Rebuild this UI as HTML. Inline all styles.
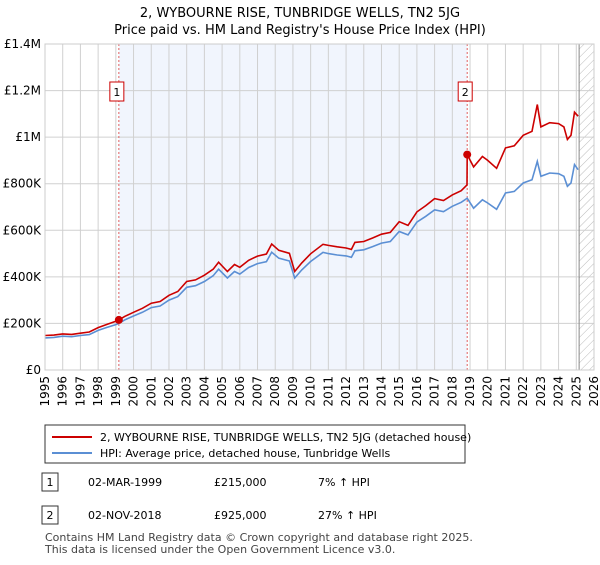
<!DOCTYPE html>
<html><head><meta charset="utf-8"><style>
body{margin:0;background:#fff;font-family:"Liberation Sans","DejaVu Sans",sans-serif;}
svg text{font-family:"DejaVu Sans","Liberation Sans",sans-serif;}
</style></head><body>
<svg width="600" height="560" xmlns="http://www.w3.org/2000/svg">
<defs><pattern id="hatch" width="6" height="6" patternUnits="userSpaceOnUse" patternTransform="rotate(45)"><line x1="0" y1="0" x2="0" y2="6" stroke="#bbb" stroke-width="1"/></pattern></defs>
<text x="300" y="17" text-anchor="middle" font-size="13">2, WYBOURNE RISE, TUNBRIDGE WELLS, TN2 5JG</text>
<text x="300" y="34" text-anchor="middle" font-size="13">Price paid vs. HM Land Registry's House Price Index (HPI)</text>
<g id="plot"></g>
<g>
<rect x="45" y="425" width="420" height="38" fill="#fff" stroke="#333" stroke-width="1"/>
<line x1="52" y1="437" x2="92" y2="437" stroke="#cc0000" stroke-width="2"/>
<text x="100" y="441" font-size="11">2, WYBOURNE RISE, TUNBRIDGE WELLS, TN2 5JG (detached house)</text>
<line x1="52" y1="453" x2="92" y2="453" stroke="#5b8fd4" stroke-width="2"/>
<text x="100" y="457" font-size="11">HPI: Average price, detached house, Tunbridge Wells</text>
</g>
<g font-size="11">
<rect x="42" y="473" width="16" height="18" fill="#fff" stroke="#333"/><text x="50" y="486" text-anchor="middle">1</text>
<text x="88" y="486">02-MAR-1999</text><text x="214" y="486">£215,000</text><text x="318" y="486">7% ↑ HPI</text>
<rect x="42" y="506" width="16" height="18" fill="#fff" stroke="#333"/><text x="50" y="519" text-anchor="middle">2</text>
<text x="88" y="519">02-NOV-2018</text><text x="214" y="519">£925,000</text><text x="318" y="519">27% ↑ HPI</text>
</g>
<text x="45" y="541" font-size="11" fill="#444">Contains HM Land Registry data © Crown copyright and database right 2025.</text>
<text x="45" y="553" font-size="11" fill="#444">This data is licensed under the Open Government Licence v3.0.</text>
</svg>
<script>
const hpiYears=[1995.0,1995.5,1996.0,1996.5,1997.0,1997.5,1998.0,1998.5,1999.0,1999.17,1999.5,2000.0,2000.5,2001.0,2001.5,2002.0,2002.5,2003.0,2003.5,2004.0,2004.5,2004.8,2005.3,2005.7,2006.0,2006.5,2007.0,2007.5,2007.8,2008.2,2008.8,2009.1,2009.5,2010.0,2010.7,2011.0,2011.5,2012.0,2012.3,2012.5,2013.0,2013.5,2014.0,2014.5,2015.0,2015.5,2016.0,2016.5,2017.0,2017.5,2018.0,2018.5,2018.84,2019.2,2019.7,2020.0,2020.5,2021.0,2021.5,2022.0,2022.5,2022.8,2023.0,2023.5,2024.0,2024.3,2024.5,2024.7,2024.9,2025.1];
const hpiValues=[138,140,145,143,148,152,170,183,195,200,215,232,248,268,275,300,315,355,362,380,405,433,395,423,412,440,457,465,506,480,468,395,430,466,505,500,494,490,484,512,516,530,545,552,595,580,635,660,688,680,703,720,738,695,731,717,690,760,767,803,817,896,832,846,843,832,789,803,882,860];
const redYears=[1995.0,1995.5,1996.0,1996.5,1997.0,1997.5,1998.0,1998.5,1999.0,1999.17,1999.5,2000.0,2000.5,2001.0,2001.5,2002.0,2002.5,2003.0,2003.5,2004.0,2004.5,2004.8,2005.3,2005.7,2006.0,2006.5,2007.0,2007.5,2007.8,2008.2,2008.8,2009.1,2009.5,2010.0,2010.7,2011.0,2011.5,2012.0,2012.3,2012.5,2013.0,2013.5,2014.0,2014.5,2015.0,2015.5,2016.0,2016.5,2017.0,2017.5,2018.0,2018.5,2018.83,2018.84,2019.2,2019.7,2020.0,2020.5,2021.0,2021.5,2022.0,2022.5,2022.8,2023.0,2023.5,2024.0,2024.3,2024.5,2024.7,2024.9,2025.1];
const redValues=[148,150,155,153,158,163,182,196,209,215,230,248,265,287,294,321,337,380,387,407,433,463,423,453,441,471,489,498,541,514,501,423,460,499,540,535,529,524,518,548,552,567,583,591,637,621,679,706,736,728,752,770,795,925,872,917,900,866,954,963,1008,1025,1140,1044,1062,1058,1044,990,1008,1107,1090];
const saleYears=[1999.17,2018.84];
const salePrices=[215,925];
const yTicks=[0,200,400,600,800,1000,1200,1400];
const yTickLabels=["£0","£200K","£400K","£600K","£800K","£1M","£1.2M","£1.4M"];
const xTicks=[];for(let y=1995;y<=2026;y++)xTicks.push(y);

const L=45,R=594,T=44,B=370,Y0=1995,Y1=2026,VMAX=1400;
const sx=y=>L+(y-Y0)/(Y1-Y0)*(R-L);
const sy=v=>B-v/VMAX*(B-T);
const NS="http://www.w3.org/2000/svg";
const g=document.getElementById('plot');
function mk(t,a){const e=document.createElementNS(NS,t);for(const k in a)e.setAttribute(k,a[k]);g.appendChild(e);return e;}
let e;
e=mk('rect',{x:sx(saleYears[0]),y:T,width:sx(saleYears[1])-sx(saleYears[0]),height:B-T,fill:'#eef3fd',opacity:'0.8'});


e=mk('rect',{x:sx(2025.16),y:T,width:R-sx(2025.16),height:B-T,fill:'url(#hatch)'});


xTicks.forEach(y=>{
 e=mk('line',{x1:sx(y),x2:sx(y),y1:T,y2:B,stroke:'#d0d0d0','stroke-width':1});
 
 
 const x=sx(y);
 e=mk('text',{x:0,y:0,transform:`translate(${x+4},${B+6}) rotate(-90)`,'text-anchor':'end','font-size':'12'});
 e.textContent=y;
 
 
});
yTicks.forEach((v,i)=>{
 e=mk('line',{x1:L,x2:R,y1:sy(v),y2:sy(v),stroke:'#d0d0d0','stroke-width':1});
 
 
 e=mk('text',{x:L-4,y:sy(v)+4,'text-anchor':'end','font-size':'12'});
 e.textContent=yTickLabels[i];
 
 
});
e=mk('line',{x1:sx(2025.16),x2:sx(2025.16),y1:T,y2:B,stroke:'#888','stroke-width':1});


saleYears.forEach((y,i)=>{
 e=mk('line',{x1:sx(y),x2:sx(y),y1:T,y2:B,stroke:'#e06060','stroke-width':1,'stroke-dasharray':'2,2'});
 
 
});
const pts=(xs,vs)=>xs.map((y,i)=>sx(y).toFixed(1)+','+sy(vs[i]).toFixed(1)).join(' ');
e=mk('polyline',{points:pts(hpiYears,hpiValues),fill:'none',stroke:'#5b8fd4','stroke-width':1.6});


e=mk('polyline',{points:pts(redYears,redValues),fill:'none',stroke:'#cc0000','stroke-width':1.6});


saleYears.forEach((y,i)=>{
 e=mk('circle',{cx:sx(y),cy:sy(salePrices[i]),r:4,fill:'#cc0000'});
 
 
 e=mk('rect',{x:sx(y)-9,y:82,width:14,height:19,fill:'#fff',stroke:'#cc0000'});
 
 
 e=mk('text',{x:sx(y)-2,y:96,'text-anchor':'middle','font-size':'11'});
 e.textContent=String(i+1);
 
 
});
e=mk('rect',{x:L,y:T,width:R-L,height:B-T,fill:'none',stroke:'#ccc'});


</script>
</body></html>
